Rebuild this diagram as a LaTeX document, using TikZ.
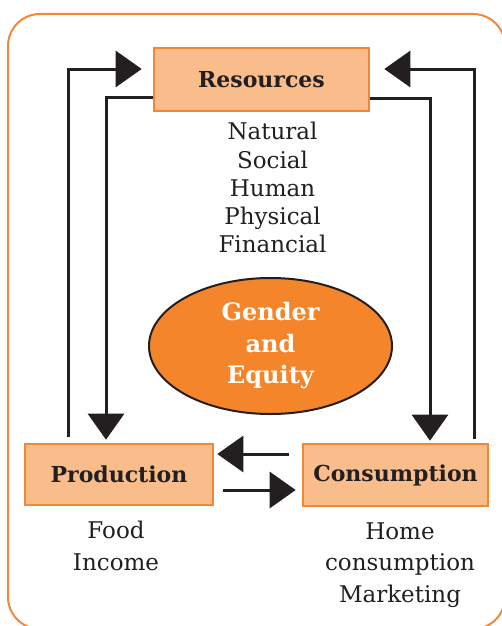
\documentclass[tikz,border=0pt]{standalone}
\usepackage{fontspec}
\setmainfont{DejaVu Serif}
\usetikzlibrary{arrows.meta,shapes.geometric}
\definecolor{frameor}{HTML}{F58634}
\definecolor{boxfill}{HTML}{F9BD8B}
\definecolor{ellfill}{HTML}{F5852B}
\definecolor{ink}{HTML}{231F20}
\begin{document}
\begin{tikzpicture}[x=1pt,y=-1pt,
  box/.style={draw=frameor, line width=2.6pt, fill=boxfill, inner sep=0pt, text=ink,
    font=\bfseries\fontsize{22}{26}\selectfont},
  lbl/.style={align=center, inner sep=0pt, text=ink},
  conn/.style={draw=ink, line width=3pt, -{Triangle[length=26pt,width=36pt]}},
]
\useasboundingbox (0,0) rectangle (502,626);
\draw[frameor, line width=2pt, rounded corners=32pt] (8,14) rectangle (505,629);

\node[box, minimum width=215pt, minimum height=63pt] (res) at (261.5,79.5) {Resources};
\node[box, minimum width=188pt, minimum height=61pt] (prod) at (119,474.5) {Production};
\node[box, minimum width=185pt, minimum height=62pt] (cons) at (395.5,475) {Consumption};

\node[ellipse, draw=ink, line width=2pt, fill=ellfill, minimum width=243pt, minimum height=136pt,
  inner sep=0pt, align=center, text=white, font=\bfseries\fontsize{24}{31.5}\selectfont]
  (ge) at (270.5,346) {Gender\\and\\Equity};

\node[lbl, font=\fontsize{23}{28.3}\selectfont] (reslist) at (272.5,187.8)
  {Natural\\Social\\Human\\Physical\\Financial};
\node[lbl, font=\fontsize{23}{31.8}\selectfont] (prodlist) at (116,546) {Food\\Income};
\node[lbl, font=\fontsize{23}{31.8}\selectfont] (conslist) at (400,565)
  {Home\\consumption\\Marketing};

\coordinate (c1) at (68,69);
\coordinate (c2) at (106,97);
\coordinate (c3) at (474,69);
\coordinate (c4) at (430,98);
\coordinate (c5) at (0,454);
\coordinate (c6) at (0,490);

\draw[conn] ([yshift=6pt]prod.north -| c1) |- ([xshift=-11pt]res.west |- c1);
\draw[conn] (res.west |- c2) -| ([yshift=3pt]prod.north -| c2);
\draw[conn] ([yshift=4pt]cons.north -| c3) |- ([xshift=14pt]res.east |- c3);
\draw[conn] (res.east |- c4) -| ([yshift=2pt]cons.north -| c4);
\draw[conn] ([xshift=-13pt]cons.west |- c5) -- ([xshift=3pt]prod.east |- c5);
\draw[conn] ([xshift=9pt]prod.east |- c6) -- ([xshift=-6pt]cons.west |- c6);
\end{tikzpicture}
\end{document}
